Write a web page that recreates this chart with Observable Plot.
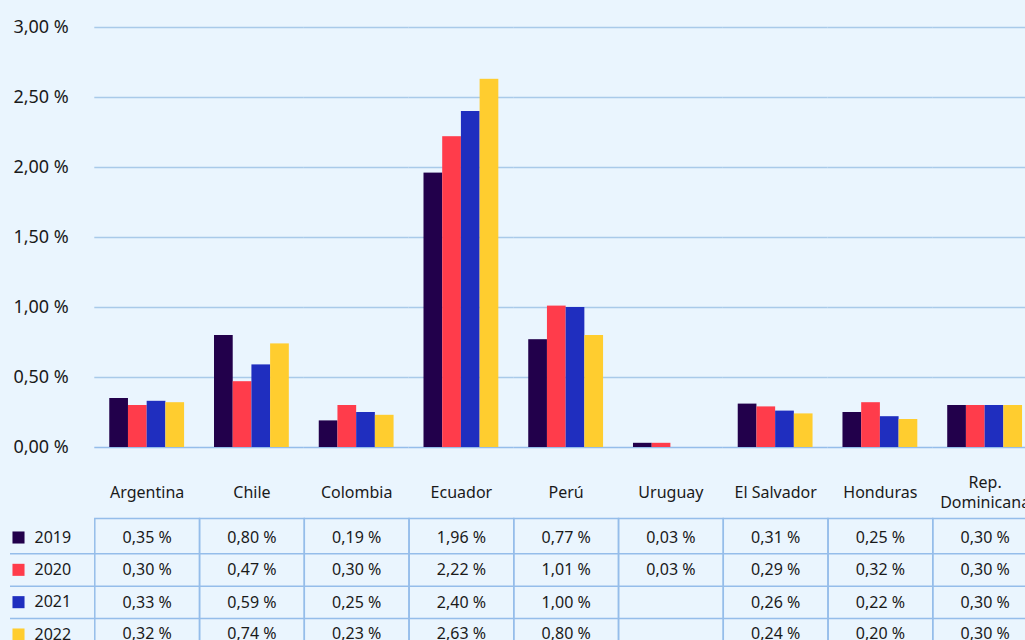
<!DOCTYPE html>
<html><head><meta charset="utf-8">
<script src="https://cdn.jsdelivr.net/npm/d3@7"></script>
<script src="https://cdn.jsdelivr.net/npm/@observablehq/plot@0.6"></script>
<style>
html,body{margin:0;padding:0;background:#eaf5fe;}
#wrap{position:relative;width:1025px;height:640px;overflow:hidden;}
#wrap svg{position:absolute;left:0;top:0;}
</style></head><body><div id="wrap"></div>
<script>
const countries = ["Argentina","Chile","Colombia","Ecuador","Perú","Uruguay","El Salvador","Honduras","Rep. Dominicana"];
const countryLabels = ["Argentina","Chile","Colombia","Ecuador","Perú","Uruguay","El Salvador","Honduras","Rep.\nDominicana"];
const years = ["2019","2020","2021","2022"];
const v2019 = [0.35,0.80,0.19,1.96,0.77,0.03,0.31,0.25,0.30];
const v2020 = [0.30,0.47,0.30,2.22,1.01,0.03,0.29,0.32,0.30];
const v2021 = [0.33,0.59,0.25,2.40,1.00,null,0.26,0.22,0.30];
const v2022 = [0.32,0.74,0.23,2.63,0.80,null,0.24,0.20,0.30];
const yTicks = [0,0.5,1,1.5,2,2.5,3];
const colors = ["#22004b","#ff3c4b","#1f2ebf","#ffcd2f"];

const series = [v2019,v2020,v2021,v2022];
const rows = years.flatMap((yr,i)=>countries.map((c,j)=>({country:c,label:countryLabels[j],year:yr,value:series[i][j]})));
const fmt = v => v.toFixed(2).replace(".",",") + " %";
const grid = "#a9cae9";
const tableLine = "#95bdea";
const bg = "#eaf5fe";
const ink = "#1a1a1a";
const rowDy = [90,122.3,155,186.5];
const font = "'Noto Sans', sans-serif";

const main = Plot.plot({
  width:1025, height:640, marginTop:27, marginBottom:0, marginLeft:94, marginRight:0,
  style:{background:bg, fontFamily:font, color:ink},
  fx:{domain:countries, range:[94.3,1037], padding:0, round:false, axis:null},
  x:{domain:years, paddingInner:0, paddingOuter:0.8, round:false, axis:null},
  y:{domain:[0,3], range:[447,27], axis:null},
  color:{domain:years, range:colors},
  marks:[
    Plot.gridY(yTicks.slice(1), {stroke:grid, strokeOpacity:1, strokeWidth:1.5}),
    Plot.ruleY([0], {stroke:tableLine, strokeWidth:1.5}),
    Plot.axisY({ticks:yTicks, tickFormat:fmt, tickSize:0, tickPadding:26, fontSize:18, fill:ink, label:null}),
    Plot.barY(rows.filter(d=>d.value!=null), {fx:"country", x:"year", y:"value", fill:"year"}),
    Plot.text(rows.filter(d=>d.year===years[0]), {fx:"country", y:0, dy:44, text:"label", fontSize:16, fill:ink, lineHeight:1.25}),
    ...years.map((yr,i)=>Plot.text(rows.filter(d=>d.year===yr && d.value!=null), {fx:"country", y:0, dy:rowDy[i], text:d=>fmt(d.value), fontSize:16, fill:ink})),
    Plot.frame({insetTop:491, insetBottom:-2, stroke:tableLine, strokeWidth:1.5})
  ]
});

const legend = Plot.plot({
  width:1025, height:640, marginTop:0, marginBottom:0, marginLeft:10, marginRight:0,
  style:{background:"transparent", fontFamily:font, color:ink},
  x:{axis:null},
  y:{type:"point", domain:years, range:[537,634], padding:0, round:false, axis:null},
  color:{domain:years, range:colors},
  marks:[
    Plot.ruleY(years.slice(1), {y:d=>d, dy:-16, stroke:tableLine, strokeWidth:1.5}),
    Plot.dot(years, {y:d=>d, frameAnchor:"left", dx:8, symbol:"square", r:6.8, fill:d=>d, stroke:null}),
    Plot.text(years, {y:d=>d, text:d=>d, frameAnchor:"left", dx:24, textAnchor:"start", fontSize:16, fill:ink})
  ]
});

const wrap = document.getElementById("wrap");
wrap.appendChild(main);
wrap.appendChild(legend);
</script>
</body></html>
